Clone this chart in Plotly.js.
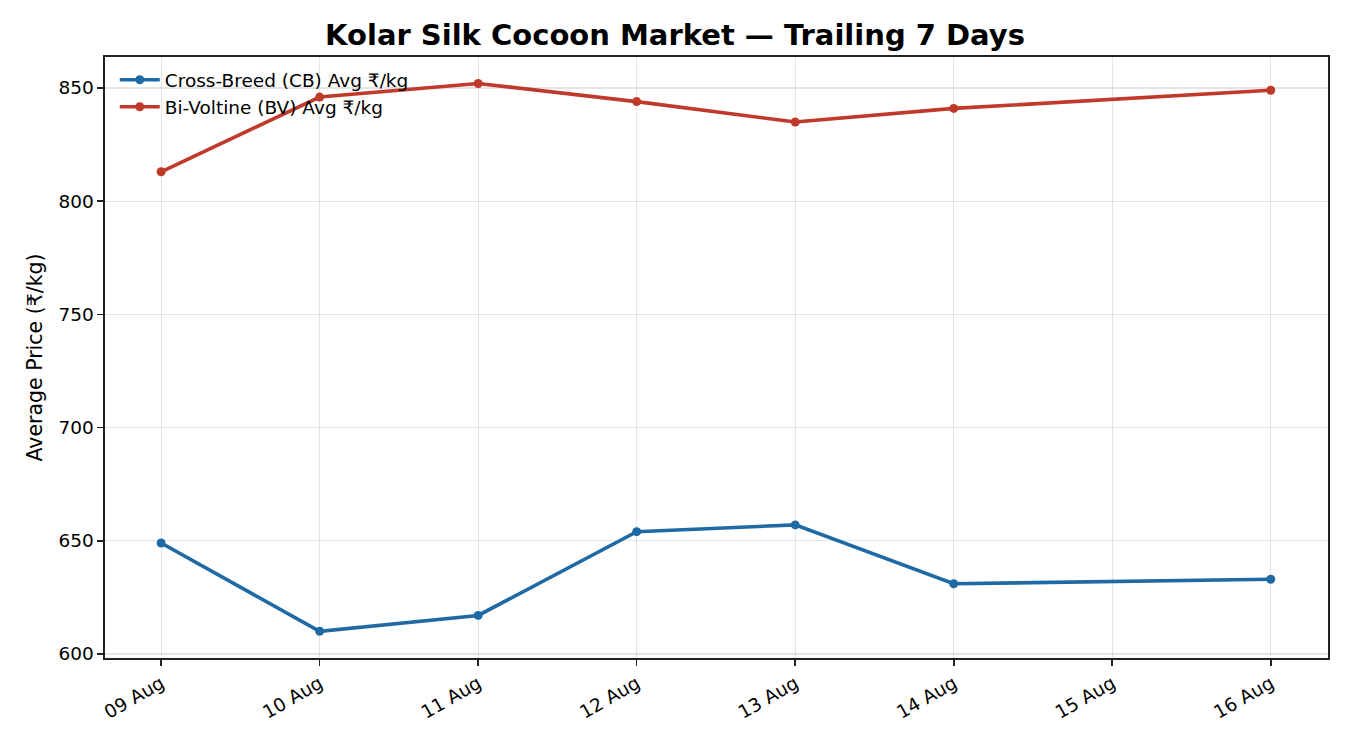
<!DOCTYPE html>
<html>
<head>
<meta charset="utf-8">
<script src="https://cdn.plot.ly/plotly-3.0.1.min.js"></script>
<style>html,body{margin:0;padding:0;background:#fff;}#chart{width:1350px;height:750px;}</style>
</head>
<body>
<div id="chart"></div>
<script>
const dates = ["2024-08-09","2024-08-10","2024-08-11","2024-08-12","2024-08-13","2024-08-14","2024-08-16"];
const cbPrices = [649, 610, 617, 654, 657, 631, 633];
const bvPrices = [813, 846, 852, 844, 835, 841, 849];
const tickDates = ["2024-08-09","2024-08-10","2024-08-11","2024-08-12","2024-08-13","2024-08-14","2024-08-15","2024-08-16"];
const tickLabels = ["09 Aug","10 Aug","11 Aug","12 Aug","13 Aug","14 Aug","15 Aug","16 Aug"];

const traces = [
  {x: dates, y: cbPrices, name: "Cross-Breed (CB) Avg ₹/kg", mode: "lines+markers",
   line: {color: "#1f6aa5", width: 3.6}, marker: {color: "#1f6aa5", size: 9}},
  {x: dates, y: bvPrices, name: "Bi-Voltine (BV) Avg ₹/kg", mode: "lines+markers",
   line: {color: "#c0392b", width: 3.6}, marker: {color: "#c0392b", size: 9}}
];

const layout = {
  width: 1350, height: 750,
  margin: {l: 105, r: 22, t: 57, b: 92},
  paper_bgcolor: "#fff", plot_bgcolor: "#fff",
  font: {family: "DejaVu Sans, sans-serif", size: 18, color: "#000"},
  title: {text: "<b>Kolar Silk Cocoon Market — Trailing 7 Days</b>", x: 0.5, xanchor: "center", y: 0.953, yanchor: "middle", font: {size: 29, color: "#000"}},
  xaxis: {
    type: "date",
    range: ["2024-08-08 15:30", "2024-08-16 08:40"],
    tickvals: tickDates, ticktext: tickLabels, tickangle: -30,
    showgrid: true, gridcolor: "rgba(0,0,0,0.1)", gridwidth: 1.2,
    showline: true, linecolor: "#222", linewidth: 1.6, mirror: true,
    ticks: "outside", ticklen: 6, tickwidth: 1.6, tickcolor: "#222", tickfont: {size: 18.5},
    zeroline: false
  },
  yaxis: {
    range: [598.2, 863.7],
    tickvals: [600, 650, 700, 750, 800, 850],
    showgrid: true, gridcolor: "rgba(0,0,0,0.1)", gridwidth: 1.2,
    showline: true, linecolor: "#222", linewidth: 1.6, mirror: true,
    ticks: "outside", ticklen: 6, tickwidth: 1.6, tickcolor: "#222", tickfont: {size: 18.5},
    zeroline: false,
    title: {text: "Average Price (₹/kg)", font: {size: 20.5}, standoff: 10}
  },
  legend: {x: 0.008, y: 0.993, xanchor: "left", yanchor: "top", bgcolor: "rgba(255,255,255,0)", borderwidth: 0, font: {size: 18.5}, tracegroupgap: 0, itemwidth: 40},
  showlegend: true
};

Plotly.newPlot("chart", traces, layout, {displayModeBar: false, staticPlot: true});
</script>
</body>
</html>
